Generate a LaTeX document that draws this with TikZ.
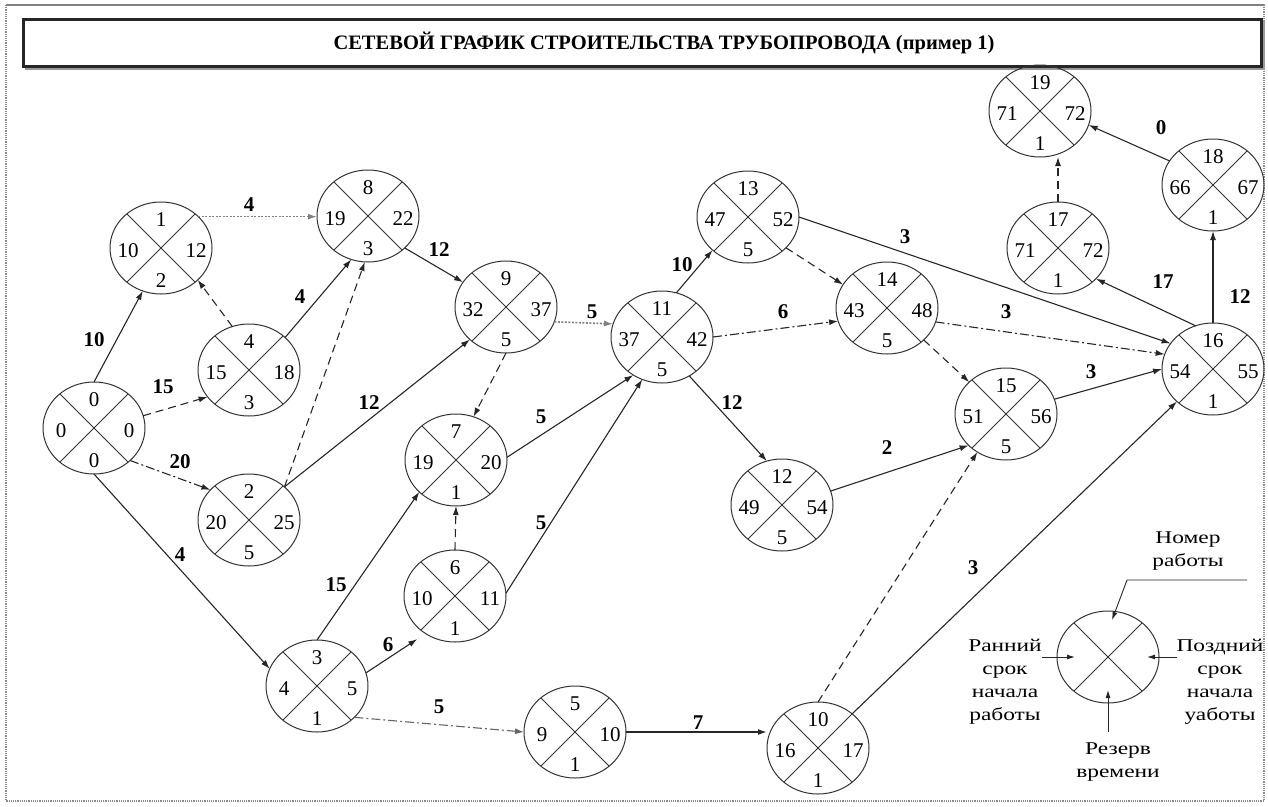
\documentclass[tikz,border=0pt]{standalone}
\usepackage{fontspec}
\setmainfont{Liberation Serif}
\newfontfamily\legfont{Liberation Serif}[FakeStretch=1.3]
\usetikzlibrary{arrows.meta,shapes.geometric}
\tikzset{
 evt/.style={ellipse, draw=black!80, line width=1pt, minimum width=102pt, minimum height=92pt, inner sep=0pt, outer sep=0pt},
 diag/.style={draw=black!80, line width=0.9pt},
 num/.style={font=\fontsize{21}{22}\selectfont, inner sep=0pt},
 lbl/.style={font=\fontsize{21}{22}\selectfont\bfseries, inner sep=0pt},
 arr/.style={-{Latex[length=9pt,width=6pt]}, line width=1.1pt, draw=black!85},
 dsh/.style={arr, dash pattern=on 8pt off 5pt},
 ddot/.style={arr, dash pattern=on 9pt off 3pt on 2pt off 3pt},
 dotl/.style={arr, draw=black!50, dash pattern=on 2pt off 1.5pt, line width=1.6pt},
 leg/.style={font=\legfont\fontsize{18}{23}\selectfont, align=center, inner sep=0pt},
 legarr/.style={-{Latex[length=8pt,width=5pt]}, line width=0.9pt, draw=black!85},
}
\newcommand\evt[7]{%
 \node[evt] (#1) at (#2,#3) {};
 \draw[diag] (#1.45) -- (#1.225) (#1.135) -- (#1.315);
 \node[num] (#1t) at (#2,#3-28) {#4};
 \node[num] (#1l) at (#2-33,#3+3) {#5};
 \node[num] (#1r) at (#2+35,#3+3) {#6};
 \node[num] (#1b) at (#2,#3+33) {#7};
}
\begin{document}
\begin{tikzpicture}[x=1pt,y=-1pt]
\useasboundingbox (0,0) rectangle (1268,806);
% page frame
\draw[black!45, densely dotted, line width=1.2pt] (6,5) rectangle (1264,801);
\draw[black!50, line width=1.5pt] (6,5) -- (1264,5);
% title
\draw[black!40, line width=2pt] (25,69) -- (1264,69) -- (1264,20);
\draw[black!85, line width=3pt] (23,19) rectangle (1261,66);
\node[font=\fontsize{20.5}{22}\selectfont\bfseries] (title) at (664,43) {СЕТЕВОЙ ГРАФИК СТРОИТЕЛЬСТВА ТРУБОПРОВОДА (пример 1)};
% events
\evt{n0}{94}{428}{0}{0}{0}{0}
\evt{n1}{161}{248}{1}{10}{12}{2}
\evt{n2}{249}{520}{2}{20}{25}{5}
\evt{n3}{317}{686}{3}{4}{5}{1}
\evt{n4}{249}{370}{4}{15}{18}{3}
\evt{n5}{575}{732}{5}{9}{10}{1}
\evt{n6}{455}{596}{6}{10}{11}{1}
\evt{n7}{456}{460}{7}{19}{20}{1}
\evt{n8}{368}{216}{8}{19}{22}{3}
\evt{n9}{506}{307}{9}{32}{37}{5}
\evt{n10}{818}{748}{10}{16}{17}{1}
\evt{n11}{662}{337}{11}{37}{42}{5}
\evt{n12}{782}{505}{12}{49}{54}{5}
\evt{n13}{748}{217}{13}{47}{52}{5}
\evt{n14}{887}{308}{14}{43}{48}{5}
\evt{n15}{1006}{414}{15}{51}{56}{5}
\evt{n16}{1213}{369}{16}{54}{55}{1}
\evt{n17}{1058}{248}{17}{71}{72}{1}
\evt{n18}{1213}{185}{18}{66}{67}{1}
\evt{n19}{1040}{111}{19}{71}{72}{1}
% works
\draw[arr] (n0.90) -- (n1.247);
\draw[dsh] (n0.14) -- (n4.213);
\draw[ddot] (n0.318) -- (n2.142);
\draw[arr] (n0.270) -- (n3.160);
\draw[dotl] (n1.40) -- (n1.40 -| n8.west);
\draw[dsh] (n4.111) -- (n1.319);
\draw[arr] (n4.42) -- (n8.249);
\draw[dsh] (n2.43) -- (n8.266);
\draw[arr] (n8.319) -- (n9.150);
\draw[arr] (n2.43) -- (n9.222);
\draw[dotl] (n9.343) -- (n11.165);
\draw[dsh] (n9.270) -- (n7.68);
\draw[arr] (n7.3) -- (n11.233);
\draw[dsh] (n6.90) -- (n7.270);
\draw[arr] (n6.3) -- (n11.245);
\draw[arr] (n3.90) -- (n7.221);
\draw[arr, shorten >=10pt] (n3.15) -- (n6.232);
\draw[ddot, draw=black!60] (n3.320) -- (n5.180);
\draw[arr, line width=1.6pt] (n5.0) -- (n5.0 -| n10.west);
\draw[dsh] (n10.90) -- (n15.233);
\draw[arr] (n10.45) -- (n16.222);
\draw[arr] (n11.72) -- (n13.223);
\draw[ddot] (n11.0) -- (n14.195);
\draw[arr] (n11.305) -- (n12.109);
\draw[dsh] (n13.321) -- (n14.152);
\draw[arr] (n13.0) -- (n16.149);
\draw[ddot] (n14.344) -- (n16.163);
\draw[dsh] (n14.319) -- (n15.139);
\draw[arr] (n12.16) -- (n15.220);
\draw[arr] (n15.17) -- (n16.180);
\draw[arr] (n16.112) -- (n17.321);
\draw[arr] (n16.90) -- (n18.270);
\draw[dsh] (n17.90) -- (n17.90 |- n19.south);
\draw[arr] (n18.151) -- (n19.344);
% durations
\node[lbl] (d01) at (94,340) {10};
\node[lbl] (d04) at (163,387) {15};
\node[lbl] (d02) at (180,462) {20};
\node[lbl] (d03) at (180,555) {4};
\node[lbl] (d18) at (249,205) {4};
\node[lbl] (d48) at (300,297) {4};
\node[lbl] (d89) at (439,250) {12};
\node[lbl] (d29) at (369,403) {12};
\node[lbl] (d911) at (592,312) {5};
\node[lbl] (d711) at (541,417) {5};
\node[lbl] (d611) at (541,523) {5};
\node[lbl] (d37) at (336,585) {15};
\node[lbl] (d36) at (388,645) {6};
\node[lbl] (d35) at (439,707) {5};
\node[lbl] (d510) at (698,723) {7};
\node[lbl] (d1016) at (973,568) {3};
\node[lbl] (d1113) at (682,265) {10};
\node[lbl] (d1114) at (783,312) {6};
\node[lbl] (d1112) at (732,403) {12};
\node[lbl] (d1316) at (905,237) {3};
\node[lbl] (d1416) at (1006,312) {3};
\node[lbl] (d1215) at (887,448) {2};
\node[lbl] (d1516) at (1091,372) {3};
\node[lbl] (d1617) at (1163,282) {17};
\node[lbl] (d1618) at (1240,297) {12};
\node[lbl] (d1819) at (1161,128) {0};
% legend
\node[evt] (lg) at (1108,657) {};
\draw[diag] (lg.45) -- (lg.225) (lg.135) -- (lg.315);
\node[leg] (lgT) at (1188,551) {Номер\\работы};
\node[leg] (lgL) at (1005,682) {Ранний\\срок\\начала\\работы};
\node[leg] (lgR) at (1220,682) {Поздний\\срок\\начала\\уаботы};
\node[leg] (lgB) at (1118,762) {Резерв\\времени};
\coordinate (lgTa) at (1247,580);
\coordinate (lgTb) at (1127,580);
\coordinate (lgTc) at (1112,620);
\coordinate (lgLa) at (1042,657);
\coordinate (lgLb) at (1075,657);
\coordinate (lgRa) at (1177,657);
\coordinate (lgRb) at (1147,657);
\coordinate (lgBa) at (1108,732);
\coordinate (lgBb) at (1108,690);
\draw[legarr] (lgTa) -- (lgTb) -- (lgTc);
\draw[legarr] (lgLa) -- (lgLb);
\draw[legarr] (lgRa) -- (lgRb);
\draw[legarr] (lgBa) -- (lgBb);
\end{tikzpicture}
\end{document}
